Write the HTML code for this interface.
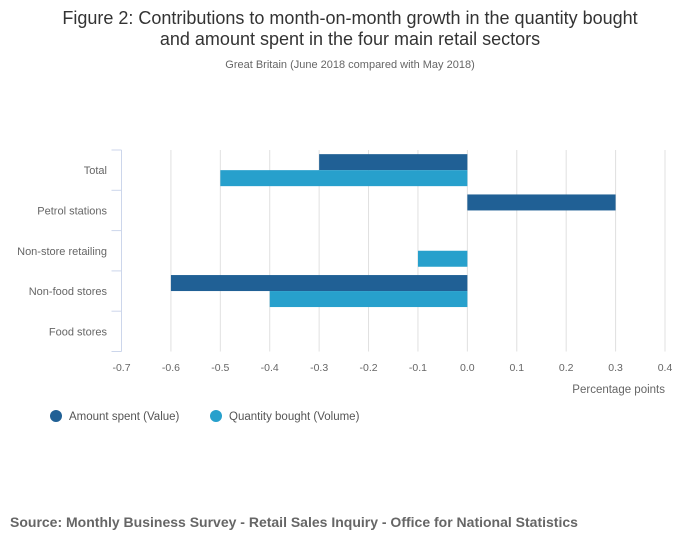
<!DOCTYPE html>
<html><head><meta charset="utf-8"><style>
body{margin:0;background:#fff;font-family:"Liberation Sans",sans-serif;}
svg text{font-family:"Liberation Sans",sans-serif;}
</style></head><body>
<svg width="700" height="549" xmlns="http://www.w3.org/2000/svg">
<text x="350" y="24" text-anchor="middle" font-size="18" fill="#333">Figure 2: Contributions to month-on-month growth in the quantity bought</text>
<text x="350" y="45" text-anchor="middle" font-size="18" fill="#333">and amount spent in the four main retail sectors</text>
<text x="350" y="68" text-anchor="middle" font-size="11" fill="#666">Great Britain (June 2018 compared with May 2018)</text>
<g id="grid"></g><g id="bars"></g><g id="axes"></g>
<text x="665" y="393" text-anchor="end" font-size="11.5" fill="#666">Percentage points</text>
<g>
<circle cx="56" cy="416" r="6" fill="#206095"/>
<text x="69" y="420" font-size="11.5" fill="#555">Amount spent (Value)</text>
<circle cx="216" cy="416" r="6" fill="#27a0cc"/>
<text x="229" y="420" font-size="11.5" fill="#555">Quantity bought (Volume)</text>
</g>
<text x="10" y="527" font-size="14" font-weight="bold" fill="#666">Source: Monthly Business Survey - Retail Sales Inquiry - Office for National Statistics</text>
</svg>
<script>
const categories=["Total","Petrol stations","Non-store retailing","Non-food stores","Food stores"];
const valueSeries=[-0.3,0.3,0,-0.6,0];
const volumeSeries=[-0.5,0,-0.1,-0.4,0];
const xTicks=[-0.7,-0.6,-0.5,-0.4,-0.3,-0.2,-0.1,0,0.1,0.2,0.3,0.4];
const NS="http://www.w3.org/2000/svg";
const x0=121.5,x1=665,plotTop=150,plotBottom=351.5,xmin=-0.7,xmax=0.4;
const xs=v=>x0+(v-xmin)/(xmax-xmin)*(x1-x0);
const band=(plotBottom-plotTop)/categories.length;
function mk(t,a,p){const e=document.createElementNS(NS,t);for(const k in a)e.setAttribute(k,a[k]);document.getElementById(p).appendChild(e);return e;}
xTicks.forEach((t,i)=>{
 const x=xs(t);
 if(i>0){const g=mk('line',{x1:x,x2:x,y1:plotTop,y2:plotBottom,stroke:'#e0e0e0','stroke-width':1},'grid');
 
 }
 const tx=mk('text',{x:x,y:371,'text-anchor':'middle','font-size':10.5,fill:'#666'},'axes');
 tx.textContent=t.toFixed(1);
 
 
});
const ax=mk('line',{x1:x0,x2:x0,y1:plotTop,y2:plotBottom,stroke:'#ccd6eb','stroke-width':1},'axes');


for(let i=0;i<=categories.length;i++){
 const y=plotTop+i*band;
 const tk=mk('line',{x1:x0-10,x2:x0,y1:y,y2:y,stroke:'#ccd6eb','stroke-width':1},'axes');
 
 
}
categories.forEach((c,i)=>{
 const yc=plotTop+i*band+band/2;
 const t=mk('text',{x:107,y:yc+4,'text-anchor':'end','font-size':11,fill:'#666'},'axes');
 t.textContent=c;
 
 
 [[valueSeries,'#206095',-16],[volumeSeries,'#27a0cc',0]].forEach(([s,col,off])=>{
  const v=s[i]; if(v===0)return;
  const a=xs(Math.min(0,v)),b=xs(Math.max(0,v));
  const r=mk('rect',{x:a,y:yc+off,width:b-a,height:16,fill:col},'bars');
  
  
 });
});
</script>
</body></html>
